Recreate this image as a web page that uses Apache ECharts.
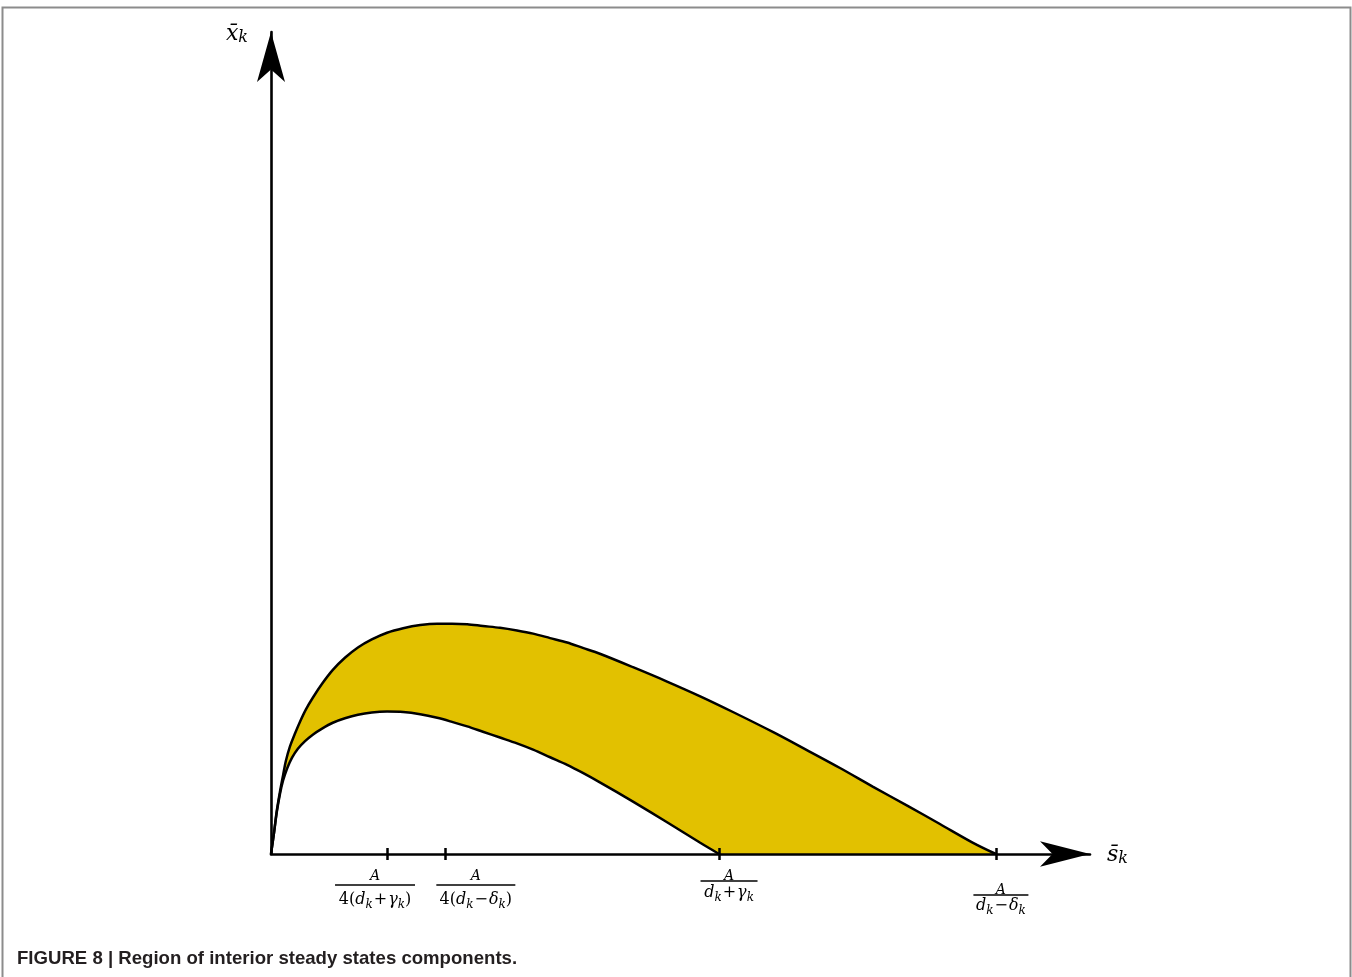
<!DOCTYPE html>
<html>
<head>
<meta charset="utf-8">
<script src="https://cdn.jsdelivr.net/npm/echarts@6/dist/echarts.min.js"></script>
<style>
  html, body { margin: 0; padding: 0; background: #fff; }
  #chart { width: 1352px; height: 977px; }
</style>
</head>
<body>
<div id="chart"></div>
<script>
// Boundary curves of the interior steady-state region (x̄_k against s̄_k)
const upperS = [0, 0.007, 0.013, 0.020, 0.027, 0.033, 0.042, 0.054, 0.065, 0.078, 0.094, 0.114,
  0.138, 0.165, 0.194, 0.225, 0.259, 0.295, 0.333, 0.371, 0.404, 0.438, 0.473, 0.511, 0.549,
  0.585, 0.623, 0.661, 0.696, 0.734, 0.808, 0.884, 0.958, 1.031, 1.121, 1.196, 1.270, 1.344,
  1.420, 1.493, 1.567, 1.618];
const upperX = [0, 0.050, 0.097, 0.139, 0.176, 0.207, 0.239, 0.270, 0.296, 0.323, 0.350, 0.380,
  0.411, 0.438, 0.461, 0.479, 0.494, 0.504, 0.511, 0.514, 0.514, 0.513, 0.509, 0.505, 0.499,
  0.492, 0.482, 0.472, 0.460, 0.447, 0.417, 0.385, 0.352, 0.317, 0.272, 0.232, 0.192, 0.150,
  0.108, 0.067, 0.025, 0];

const lowerS = [0, 0.007, 0.013, 0.020, 0.027, 0.036, 0.047, 0.060, 0.076, 0.094, 0.114, 0.138,
  0.165, 0.194, 0.225, 0.259, 0.295, 0.333, 0.371, 0.404, 0.438, 0.473, 0.511, 0.549, 0.585,
  0.623, 0.661, 0.696, 0.734, 0.808, 0.884, 0.958, 1.0];
const lowerX = [0, 0.049, 0.094, 0.134, 0.164, 0.191, 0.215, 0.235, 0.252, 0.267, 0.280, 0.293,
  0.303, 0.311, 0.316, 0.318, 0.317, 0.312, 0.304, 0.295, 0.285, 0.273, 0.260, 0.247, 0.233,
  0.216, 0.199, 0.181, 0.160, 0.117, 0.071, 0.025, 0];

// Marked abscissae and their fraction labels
const tickValues = [0.259, 0.388, 1.0, 1.618];
const tickNumerators = ['A', 'A', 'A', 'A'];
const tickDenominators = ['4(d_k+γ_k)', '4(d_k−δ_k)', 'd_k+γ_k', 'd_k−δ_k'];

const xAxisName = 's̄_k';
const yAxisName = 'x̄_k';
const caption = 'FIGURE 8 | Region of interior steady states components.';

// Axis extents (up to the arrow tips)
const sMax = 1.828;
const xMax = 1.835;

// ---- styling ----
const INK = '#000';
const FILL = '#e2c100';
const MATH = 'DejaVu Serif';

// per-label layout: horizontal shift, numerator top gap / box, bar width, denominator box
const labelLayout = [
  { dx: -12, top: 2, num: 16, bar: 80, den: 28 },
  { dx: 31, top: 2, num: 16, bar: 79, den: 28 },
  { dx: 10, top: 6, num: 8, bar: 57, den: 22 },
  { dx: 5, top: 20, num: 8, bar: 55, den: 20 }
];
// the two close fractions sit on separate (overlaid) axes so neither gets dropped
const secondaryLabel = [1];

const richStyles = {};
labelLayout.forEach((L, i) => {
  richStyles['n' + i] = { fontFamily: MATH, fontStyle: 'italic', fontSize: 14, color: INK,
    height: L.num, lineHeight: L.top + L.num, padding: [L.top, 0, 0, 0], align: 'center' };
  richStyles['b' + i] = { width: L.bar, height: 1.3, lineHeight: 2, fontSize: 1,
    backgroundColor: INK, align: 'center' };
  richStyles['i' + i] = { fontFamily: MATH, fontStyle: 'italic', fontSize: 16, color: INK,
    lineHeight: L.den, align: 'center' };
  richStyles['r' + i] = { fontFamily: MATH, fontSize: 16, color: INK,
    lineHeight: L.den, align: 'center' };
  richStyles['o' + i] = { fontFamily: MATH, fontSize: 16, color: INK,
    lineHeight: L.den, padding: [0, 1, 0, 1], align: 'center' };
  richStyles['s' + i] = { fontFamily: MATH, fontStyle: 'italic', fontSize: 12, color: INK,
    height: 12, padding: [9, 0, 0, 0], lineHeight: L.den, align: 'center' };
  richStyles['p' + i] = { width: Math.abs(L.dx) * 2, lineHeight: 1, fontSize: 1, align: 'center' };
});

function mathRich(expr, i) {
  let out = '';
  for (let c = 0; c < expr.length; c++) {
    const ch = expr[c];
    if (ch === '_') out += '{s' + i + '|' + expr[++c] + '}';
    else if (ch === '+' || ch === '−') out += '{o' + i + '|' + ch + '}';
    else if (/[A-Za-z\u03b1-\u03c9]/.test(ch)) out += '{i' + i + '|' + ch + '}';
    else out += '{r' + i + '|' + ch + '}';
  }
  return out;
}

function fractionLabel(value) {
  let i = 0;
  tickValues.forEach((v, k) => { if (Math.abs(v - value) < Math.abs(tickValues[i] - value)) i = k; });
  const L = labelLayout[i];
  const sp = '{p' + i + '| }';
  const lead = L.dx > 0 ? sp : '';
  const trail = L.dx < 0 ? sp : '';
  const wrap = s => lead + s + trail;
  return [
    wrap('{n' + i + '|' + tickNumerators[i] + '}'),
    wrap('{b' + i + '| }'),
    wrap(mathRich(tickDenominators[i], i))
  ].join('\n');
}

function axisNameRich(name) {
  const [base, sub] = name.split('_');
  return '{v|' + base + '}{k|' + sub + '}';
}
const nameRich = {
  v: { fontFamily: MATH, fontStyle: 'italic', fontSize: 22, color: INK, lineHeight: 26 },
  k: { fontFamily: MATH, fontStyle: 'italic', fontSize: 16, color: INK, height: 16,
       padding: [8, 0, 0, 0], lineHeight: 26 }
};

const upperData = upperS.map((s, i) => [s, upperX[i]]);
const lowerData = lowerS.map((s, i) => [s, lowerX[i]]);
const primaryLabelValues = tickValues.filter((v, i) => secondaryLabel.indexOf(i) < 0);
const secondaryLabelValues = tickValues.filter((v, i) => secondaryLabel.indexOf(i) >= 0);

const chart = echarts.init(document.getElementById('chart'), null, { renderer: 'canvas' });

const baseX = {
  type: 'value', min: 0, max: sMax, gridIndex: 0, position: 'bottom', z: 5,
  splitLine: { show: false }
};
const fractionLabels = values => ({
  show: true, customValues: values, margin: 12, formatter: fractionLabel,
  hideOverlap: false, showMinLabel: true, showMaxLabel: true, rich: richStyles, color: INK
});
const tickMarks = inside => ({
  show: true, customValues: tickValues, inside: inside, length: 6,
  lineStyle: { color: INK, width: 2.5 }
});

const curve = { type: 'line', smooth: 0.3, showSymbol: false, silent: true };

chart.setOption({
  animation: false,
  backgroundColor: '#fff',
  title: {
    text: caption, left: 17, top: 949, padding: 0,
    textStyle: { fontFamily: 'Liberation Sans', fontWeight: 'bold', fontSize: 18.6, color: '#231f20' }
  },
  graphic: [{
    type: 'rect', silent: true, z: -1,
    shape: { x: 2.5, y: 7.5, width: 1348, height: 1100 },
    style: { fill: 'none', stroke: '#8c8c8c', lineWidth: 2 }
  }],
  grid: { left: 271, right: 262, top: 32, bottom: 123, containLabel: false, outerBoundsMode: 'none' },
  xAxis: [
    Object.assign({}, baseX, {
      name: axisNameRich(xAxisName), nameLocation: 'end', nameGap: 17, nameMoveOverlap: false,
      nameTextStyle: { rich: nameRich, verticalAlign: 'middle', padding: [2, 0, 0, 0] },
      axisLine: { show: true, symbol: ['none', 'arrow'], symbolSize: [19, 50],
        lineStyle: { color: INK, width: 2.6 } },
      axisTick: tickMarks(false),
      axisLabel: fractionLabels(primaryLabelValues)
    }),
    Object.assign({}, baseX, {
      axisLine: { show: false },
      axisTick: tickMarks(true),
      axisLabel: fractionLabels(secondaryLabelValues)
    })
  ],
  yAxis: {
    type: 'value', min: 0, max: xMax, z: 5,
    name: axisNameRich(yAxisName), nameLocation: 'end', nameGap: -15, nameMoveOverlap: false,
    nameTextStyle: { rich: nameRich, align: 'right', verticalAlign: 'bottom', padding: [0, 23, 0, 0] },
    axisLine: { show: true, symbol: ['none', 'arrow'], symbolSize: [21, 50],
      lineStyle: { color: INK, width: 2.6 } },
    axisTick: { show: false },
    axisLabel: { show: false },
    splitLine: { show: false }
  },
  series: [
    Object.assign({ name: 'upper region', data: upperData, lineStyle: { width: 0 },
      areaStyle: { color: FILL, opacity: 1 }, z: 1 }, curve),
    Object.assign({ name: 'lower region', data: lowerData, lineStyle: { width: 0 },
      areaStyle: { color: '#fff', opacity: 1 }, z: 2 }, curve),
    Object.assign({ name: 'upper boundary', data: upperData,
      lineStyle: { color: INK, width: 2.5 }, z: 3 }, curve),
    Object.assign({ name: 'lower boundary', data: lowerData,
      lineStyle: { color: INK, width: 2.5 }, z: 3 }, curve)
  ]
});
</script>
</body>
</html>
